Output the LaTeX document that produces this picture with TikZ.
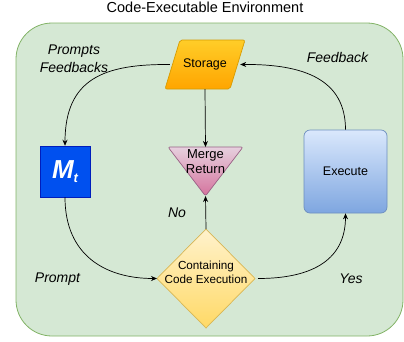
\documentclass[tikz,border=0pt]{standalone}
\usepackage{fontspec}
\setmainfont{Liberation Sans}
\usetikzlibrary{arrows.meta}
\definecolor{envfill}{HTML}{D5E8D4}
\definecolor{envline}{HTML}{82B366}
\definecolor{stTop}{HTML}{FFCD28}
\definecolor{stBot}{HTML}{FFA500}
\definecolor{stLine}{HTML}{D79B00}
\definecolor{mgTop}{HTML}{E6D0DE}
\definecolor{mgBot}{HTML}{D5739D}
\definecolor{mgLine}{HTML}{996185}
\definecolor{exTop}{HTML}{DAE8FC}
\definecolor{exBot}{HTML}{7EA6E0}
\definecolor{exLine}{HTML}{6C8EBF}
\definecolor{dmTop}{HTML}{FFF2CC}
\definecolor{dmBot}{HTML}{FFD966}
\definecolor{dmLine}{HTML}{D6B656}
\definecolor{mFill}{HTML}{0050EF}
\definecolor{mLine}{HTML}{001DBC}
\tikzset{
  conn/.style={draw=black, line width=0.7pt, -{Stealth[length=6pt,width=5pt]}},
  lbl/.style={font=\fontsize{14}{18}\selectfont\itshape, align=center, inner sep=0},
  txt/.style={font=\fontsize{12.5}{15}\selectfont, align=center, inner sep=0},
  anchorbox/.style={draw=none, inner sep=0, minimum width=#1},
}
\begin{document}
\begin{tikzpicture}[x=1pt, y=-1pt]
\useasboundingbox (0,0) rectangle (404,341);
% title
\node[font=\fontsize{14.5}{16}\selectfont, inner sep=0] (title) at (205,7.5) {Code-Executable Environment};
% environment
\draw[fill=envfill, draw=envline, line width=0.8pt, rounded corners=36pt] (16,23) rectangle (403,336);
% storage parallelogram
\shade[top color=stTop, bottom color=stBot, draw=stLine, line width=0.7pt, rounded corners=2pt]
  (180,40) -- (245,40) -- (230,89) -- (165,89) -- cycle;
\node[txt, minimum width=70pt, minimum height=49pt] (storage) at (205,64.5) {Storage};
% merge triangle
\shade[top color=mgTop, bottom color=mgBot, draw=mgLine, line width=0.7pt, rounded corners=2pt]
  (168,147) -- (243,147) -- (205.5,196) -- cycle;
\node[txt, font=\fontsize{13}{15}\selectfont] (merge) at (205.5,162) {Merge\\Return};
\coordinate (mergetop) at (205.5,147);
\coordinate (mergetip) at (205.5,196);
% M_t
\node[draw=mLine, fill=mFill, minimum width=50pt, minimum height=51pt, inner sep=0, line width=0.5pt,
  text=white, font=\fontsize{26}{26}\selectfont\bfseries\itshape] (mt) at (65,171.5) {M\raisebox{-0.25ex}{\fontsize{13}{13}\selectfont t}};
% Execute
\node[draw=exLine, top color=exTop, bottom color=exBot, rounded corners=6pt, minimum width=83pt, minimum height=83pt,
  inner sep=0, line width=0.7pt, font=\fontsize{12.5}{15}\selectfont] (exec) at (345.5,171.5) {Execute};
% diamond
\shade[top color=dmTop, bottom color=dmBot, draw=dmLine, line width=0.7pt]
  (206,229) -- (255,278.5) -- (206,328) -- (157,278.5) -- cycle;
\node[txt, font=\fontsize{11.7}{14}\selectfont] (cond) at (206,272) {Containing\\Code Execution};
\coordinate (condleft) at (157,278.5);
\coordinate (condright) at (258,278.5);
\coordinate (condtop) at (206,229);
% connectors
\draw[conn] (storage.west) .. controls (105,64) and (65,78) .. (mt.north);
\draw[conn] (mt.south) .. controls (65,255) and (105,278.5) .. (condleft);
\draw[conn] (condright) .. controls (315,278.5) and (345.5,258) .. (exec.south);
\draw[conn] (exec.north) .. controls (345.5,80) and (305,64) .. (storage.east);
\draw[conn] (storage.south) -- (mergetop);
\draw[conn] (condtop) -- (mergetip);
% labels
\node[lbl] (l1) at (74,59) {Prompts\\Feedbacks};
\node[lbl] (l2) at (337.5,57) {Feedback};
\node[lbl] (l3) at (177,213) {No};
\node[lbl] (l4) at (57.5,279) {Prompt};
\node[lbl] (l5) at (351,279) {Yes};
\end{tikzpicture}
\end{document}
